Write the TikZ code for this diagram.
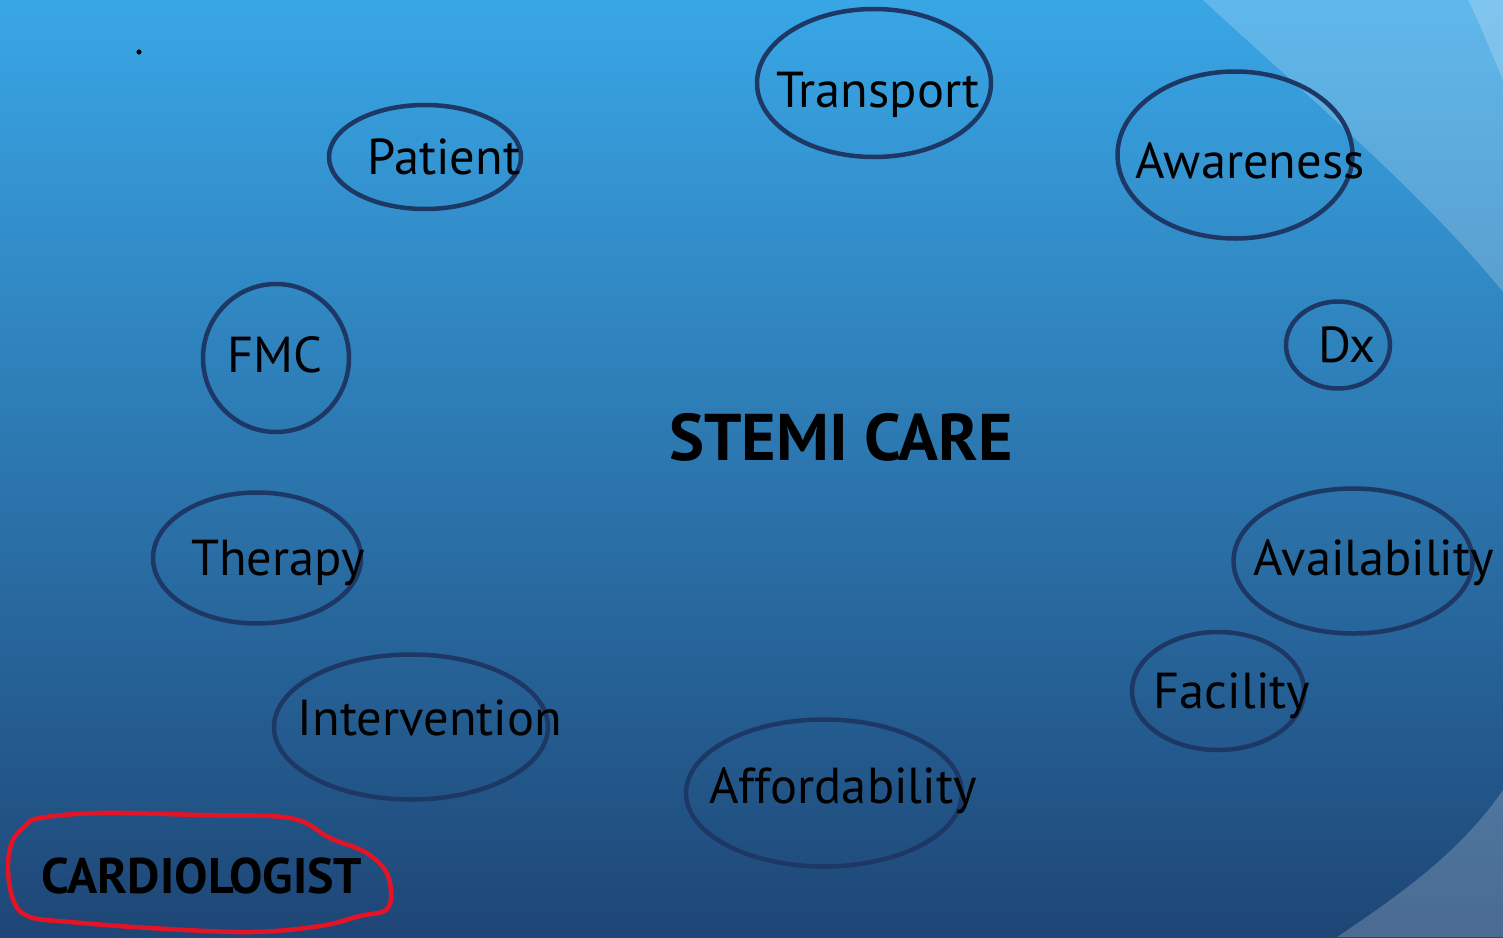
\documentclass[tikz,border=0pt]{standalone}
\usepackage{fontspec}
\setmainfont{PT Sans}
\usetikzlibrary{shapes.geometric}
\definecolor{bgtop}{RGB}{57,166,230}
\definecolor{bgbot}{RGB}{30,70,118}
\definecolor{ring}{RGB}{30,56,102}
\definecolor{redloop}{RGB}{228,20,38}
\tikzset{
  bub/.style={draw=ring, line width=4.5pt, ellipse, inner sep=0pt},
  lbl/.style={anchor=base, inner sep=0pt, text=black, font=\fontsize{50.5}{58}\selectfont},
  big/.style={anchor=base, inner sep=0pt, text=black, font=\fontsize{66}{76}\selectfont\bfseries},
  cardio/.style={anchor=base, inner sep=0pt, text=black, font=\fontsize{50}{58}\selectfont\bfseries},
}
\begin{document}
\begin{tikzpicture}[x=1pt,y=-1pt]
\useasboundingbox (0,0) rectangle (1503,937);
\shade[top color=bgtop, bottom color=bgbot] (0,0) rectangle (1503,937);
% light overlays
\fill[white, opacity=0.2] (1203,0) .. controls (1300,90) and (1420,190) .. (1503,292) -- (1503,0) -- cycle;
\fill[white, opacity=0.2] (1468,0) .. controls (1482,28) and (1492,55) .. (1503,80) -- (1503,0) -- cycle;
\fill[white, opacity=0.2] (1337,937) .. controls (1415,885) and (1465,845) .. (1503,790) -- (1503,937) -- cycle;
% dot
\fill[black] (139,52) circle (2.6);
% bubbles
\node[bub, minimum width=234, minimum height=148] (transport) at (874,83) {};
\node[bub, minimum width=192, minimum height=104] (patient) at (425,157) {};
\node[bub, minimum width=235, minimum height=167] (awareness) at (1235,155) {};
\node[bub, minimum width=104, minimum height=87] (dx) at (1338,345) {};
\node[bub, minimum width=146, minimum height=148] (fmc) at (276,358) {};
\node[bub, minimum width=208, minimum height=131] (therapy) at (257,558) {};
\node[bub, minimum width=274, minimum height=145] (intervention) at (411,727) {};
\node[bub, minimum width=276, minimum height=147] (afford) at (824,793) {};
\node[bub, minimum width=172, minimum height=118] (facility) at (1218,691) {};
\node[bub, minimum width=239, minimum height=145] (avail) at (1353,561) {};
% labels
\node[lbl] (transportT) at (878,107) {Transport};
\node[lbl] (patientT) at (444,174) {Patient};
\node[lbl] (awarenessT) at (1250,178) {Awareness};
\node[lbl] (dxT) at (1347,362) {Dx};
\node[lbl] (fmcT) at (275,372) {FMC};
\node[lbl] (therapyT) at (278,575) {Therapy};
\node[lbl] (interventionT) at (430,735) {Intervention};
\node[lbl] (affordT) at (843,803) {Affordability};
\node[lbl] (facilityT) at (1232,708) {Facility};
\node[lbl] (availT) at (1374,575) {Availability};
\node[big] (stemi) at (841,460) {STEMI CARE};
\node[cardio] (cardiologist) at (202,893) {CARDIOLOGIST};
% red loop
\draw[redloop, line width=4.5pt, line join=round] plot[smooth cycle, tension=0.6] coordinates {
 (40,818) (100,813) (200,815) (290,818) (330,838) (365,852) (385,870) (391,892)
 (386,910) (360,916) (320,926) (250,932) (150,928) (70,922) (30,917) (14,902)
 (8,870) (12,842) (25,826)};
\end{tikzpicture}
\end{document}
